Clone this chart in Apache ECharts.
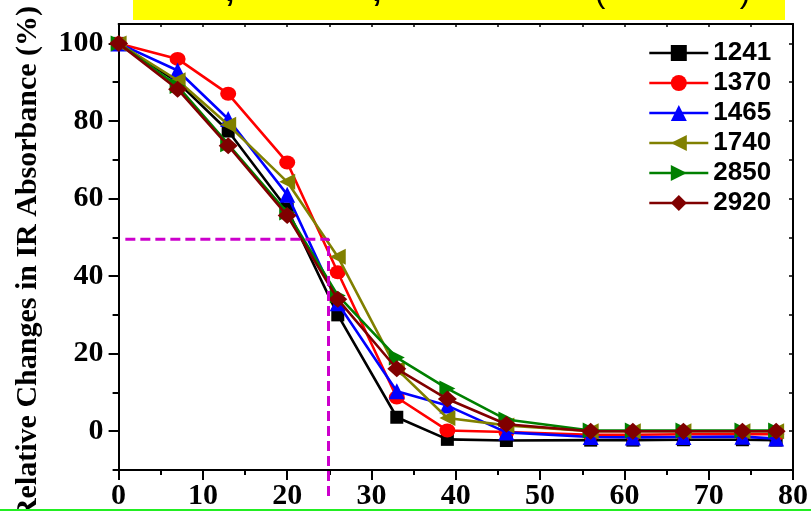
<!DOCTYPE html>
<html><head><meta charset="utf-8">
<script src="https://cdn.jsdelivr.net/npm/echarts@6/dist/echarts.min.js"></script>
<style>html,body{margin:0;padding:0;background:#fff}#c{width:811px;height:511px}</style>
</head><body><div id="c"></div>
<script>
// ---- data ----
const xValues = [0, 7, 13, 20, 26, 33, 39, 46, 56, 61, 67, 74, 78];
const s1241 = [100, 90, 77.4, 57.3, 30, 3.6, -2.1, -2.4, -2.3, -2.3, -2.2, -2.2, -2.3];
const s1370 = [100, 96, 87, 69.3, 41, 8.7, 0.2, -0.2, -0.9, -0.9, -0.8, -0.7, -0.8];
const s1465 = [100, 93, 80.5, 61, 33, 10.3, 6.6, -0.3, -1.5, -1.6, -1.5, -1.4, -1.9];
const s1740 = [100, 90.5, 79, 64.3, 45, 16, 3.4, 1.5, 0, 0, 0, 0, 0];
const s2850 = [100, 89, 74, 56.4, 35, 19, 11, 3.0, 0.2, 0.2, 0.2, 0.2, 0.2];
const s2920 = [100, 88.2, 73.6, 55.6, 34, 16.1, 8.3, 1.8, 0, 0, 0, 0, 0];
const seriesNames = ['1241', '1370', '1465', '1740', '2850', '2920'];
const xTickLabels = [0, 10, 20, 30, 40, 50, 60, 70, 80];
const yTickLabels = [0, 20, 40, 60, 80, 100];
const yMinorTicks = [-10, 10, 30, 50, 70, 90];
const guideX = [0.8, 24.9, 24.9];
const guideY = [49.5, 49.5, -17.5];
const yAxisTitle = 'Relative Changes in IR Absorbance (%)';

// ---- styles ----
const colors = ['#000000', '#ff0000', '#0000ff', '#808000', '#008000', '#800000'];
const symbols = ['rect', 'circle', 'triangle', 'triangle', 'triangle', 'diamond'];
const symbolRot = [0, 0, 0, 90, -90, 0];
const symbolSizes = [13, [16, 14], 16, 16, 16, [19, 17]];
const allValues = [s1241, s1370, s1465, s1740, s2850, s2920];

const serifFont = '"Liberation Serif", "Times New Roman", serif';
const sansFont = '"Liberation Sans", Arial, sans-serif';

const chart = echarts.init(document.getElementById('c'), null, {renderer: 'canvas'});

const series = seriesNames.map((name, i) => ({
  name: name,
  type: 'line',
  xAxisIndex: 0,
  yAxisIndex: 0,
  data: xValues.map((x, k) => [x, allValues[i][k]]),
  symbol: symbols[i],
  symbolRotate: symbolRot[i],
  symbolSize: symbolSizes[i],
  showAllSymbol: true,
  color: colors[i],
  lineStyle: {color: colors[i], width: 2.6},
  itemStyle: {color: colors[i]},
  z: 3 + i
}));

series.push({
  name: 'guide',
  type: 'line',
  data: guideX.map((x, k) => [x, guideY[k]]),
  symbol: 'none',
  clip: false,
  silent: true,
  lineStyle: {color: '#cc00cc', width: 3, type: [10, 5]},
  z: 20
});

const option = {
  animation: false,
  backgroundColor: '#ffffff',
  grid: {left: 118.6, right: 14, top: 24, bottom: 37, containLabel: false},
  legend: {
    data: seriesNames,
    orient: 'vertical',
    left: 643,
    top: 35,
    itemWidth: 59,
    itemHeight: 20,
    itemGap: 4,
    textStyle: {fontFamily: sansFont, fontWeight: 'bold', fontSize: 26, color: '#000', lineHeight: 26},
    itemStyle: {borderWidth: 0},
    lineStyle: {width: 2.6}
  },
  xAxis: [
    {
      type: 'value', position: 'bottom', min: 0, max: 80, interval: 10,
      axisLine: {show: true, onZero: false, lineStyle: {color: '#000', width: 2}},
      axisTick: {show: true, inside: false, length: 10, lineStyle: {color: '#000', width: 2}},
      minorTick: {show: true, splitNumber: 2, length: 5, lineStyle: {color: '#000', width: 2}},
      splitLine: {show: false},
      axisLabel: {
        show: true, margin: 11,
        fontFamily: serifFont, fontWeight: 'bold', fontSize: 30, color: '#000',
        formatter: v => xTickLabels.indexOf(v) >= 0 ? String(v) : ''
      }
    },
    {
      type: 'value', position: 'top', min: 0, max: 80, interval: 5,
      axisLine: {show: true, onZero: false, lineStyle: {color: '#000', width: 2}},
      axisTick: {show: true, inside: true, length: 3, lineStyle: {color: '#000', width: 1.5}},
      axisLabel: {show: false},
      splitLine: {show: false}
    }
  ],
  yAxis: [
    {
      type: 'value', position: 'left', min: -10, max: 105,
      axisLine: {show: true, onZero: false, lineStyle: {color: '#000', width: 2}},
      axisTick: {show: true, inside: false, length: 10, customValues: yTickLabels, lineStyle: {color: '#000', width: 2}},
      axisLabel: {
        show: true, margin: 15, customValues: yTickLabels, padding: [5, 0, 0, 0],
        fontFamily: serifFont, fontWeight: 'bold', fontSize: 30, color: '#000'
      },
      splitLine: {show: false}
    },
    {
      type: 'value', position: 'left', min: -10, max: 105,
      axisLine: {show: false},
      axisTick: {show: true, inside: false, length: 6, customValues: yMinorTicks, lineStyle: {color: '#000', width: 2}},
      axisLabel: {show: false},
      splitLine: {show: false}
    },
    {
      type: 'value', position: 'right', min: -10, max: 105, interval: 10,
      axisLine: {show: true, onZero: false, lineStyle: {color: '#000', width: 2}},
      axisTick: {show: true, inside: true, length: 4, lineStyle: {color: '#000', width: 1.5}},
      axisLabel: {show: false},
      splitLine: {show: false}
    }
  ],
  graphic: [
    {type: 'rect', left: 133, top: 0, shape: {width: 652, height: 20}, style: {fill: '#ffff00'}, z: 1},
    {type: 'text', x: 230, y: -8, style: {text: ',', font: 'bold 32px ' + sansFont, fill: '#000', align: 'center', verticalAlign: 'middle'}, z: 2},
    {type: 'text', x: 377, y: -8, style: {text: ',', font: 'bold 32px ' + sansFont, fill: '#000', align: 'center', verticalAlign: 'middle'}, z: 2},
    {type: 'text', x: 600, y: -7, style: {text: '(', font: '32px ' + sansFont, fill: '#000', align: 'center', verticalAlign: 'middle'}, z: 2},
    {type: 'text', x: 745, y: -7, style: {text: ')', font: '32px ' + sansFont, fill: '#000', align: 'center', verticalAlign: 'middle'}, z: 2},
    {type: 'text', x: 28, y: 263, rotation: Math.PI / 2,
      style: {text: yAxisTitle, font: 'bold 30px ' + serifFont, fill: '#000', align: 'center', verticalAlign: 'middle'}, z: 2},
    {type: 'line', shape: {x1: 0, y1: 510, x2: 811, y2: 510}, style: {stroke: '#22ee22', lineWidth: 2}, z: 2}
  ],
  series: series
};
chart.setOption(option);
</script>
</body></html>
